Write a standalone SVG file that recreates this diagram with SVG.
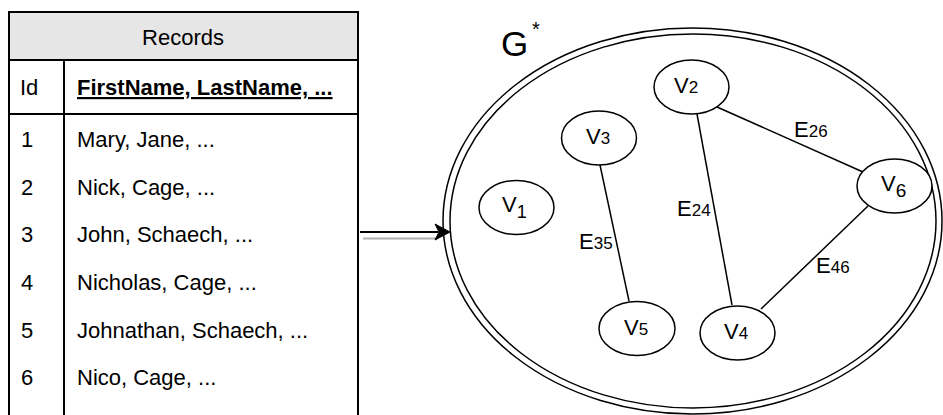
<svg xmlns="http://www.w3.org/2000/svg" width="943" height="415" viewBox="0 0 943 415">
<style>
.t{font-family:"Liberation Sans",Arial,sans-serif;fill:#000}
.tb{font-size:22px}
.line{stroke:#000;stroke-width:2;fill:none}
.node{fill:#fff;stroke:#000;stroke-width:1.5}
.edge{stroke:#000;stroke-width:1.5;fill:none}
.lbl{font-size:22px}
.sub{font-size:17px}
</style>
<rect width="943" height="415" fill="#fff"/>
<g id="records">
  <rect x="9" y="12" width="349" height="48" fill="#e6e6e6" stroke="#000" stroke-width="2"/>
  <text class="t tb" x="183" y="44.5" text-anchor="middle">Records</text>
  <path class="line" d="M9,60 V415 M358,60 V415 M64,60 V415 M9,114 H358"/>
  <text class="t tb" x="20" y="95">Id</text>
  <text class="t tb" x="77" y="95" font-weight="bold" text-decoration="underline">FirstName, LastName, ...</text>
  <text class="t tb" x="21" y="147">1</text><text class="t tb" x="77" y="147">Mary, Jane, ...</text>
  <text class="t tb" x="21" y="195">2</text><text class="t tb" x="77" y="195">Nick, Cage, ...</text>
  <text class="t tb" x="21" y="242">3</text><text class="t tb" x="77" y="242">John, Schaech, ...</text>
  <text class="t tb" x="21" y="290">4</text><text class="t tb" x="77" y="290">Nicholas, Cage, ...</text>
  <text class="t tb" x="21" y="338">5</text><text class="t tb" x="77" y="338">Johnathan, Schaech, ...</text>
  <text class="t tb" x="21" y="385">6</text><text class="t tb" x="77" y="385">Nico, Cage, ...</text>
</g>
<g id="graph">
  <ellipse cx="692.5" cy="221" rx="249.5" ry="193" fill="#fff" stroke="#000" stroke-width="1.5"/>
  <ellipse cx="693" cy="221" rx="243" ry="187" fill="none" stroke="#000" stroke-width="1.5"/>
  <text class="t" x="501" y="56" style="font-size:35px">G</text>
  <text class="t" x="532" y="36" style="font-size:20px">*</text>
</g>
<g id="connectors">
  <line x1="360" y1="232" x2="438" y2="232" stroke="#000" stroke-width="2"/>
  <line x1="363" y1="238.5" x2="437" y2="238.5" stroke="#b0b0b0" stroke-width="2"/>
  <path d="M450,232 L435,224 L439,232 L435,240 Z" fill="#000" stroke="#000" stroke-width="1"/>
  <line class="edge" x1="600" y1="165" x2="629" y2="301"/>
  <line class="edge" x1="697" y1="114" x2="732" y2="305"/>
  <line class="edge" x1="717" y1="107" x2="863" y2="172"/>
  <line class="edge" x1="761" y1="309" x2="868" y2="206"/>
  <text class="t" x="579" y="249"><tspan class="lbl">E</tspan><tspan class="sub">35</tspan></text>
  <text class="t" x="677" y="216"><tspan class="lbl">E</tspan><tspan class="sub">24</tspan></text>
  <text class="t" x="794" y="137"><tspan class="lbl">E</tspan><tspan class="sub">26</tspan></text>
  <text class="t" x="816" y="273"><tspan class="lbl">E</tspan><tspan class="sub">46</tspan></text>
</g>
<g id="v1">
  <ellipse class="node" cx="516.5" cy="207.5" rx="37.5" ry="27"/>
  <text class="t" x="502" y="212"><tspan class="lbl">V</tspan><tspan style="font-size:18px" dy="6">1</tspan></text>
</g>
<g id="v2">
  <ellipse class="node" cx="691.5" cy="87" rx="37.5" ry="27"/>
  <text class="t" x="674" y="93"><tspan class="lbl">V</tspan><tspan class="sub">2</tspan></text>
</g>
<g id="v3">
  <ellipse class="node" cx="599" cy="138" rx="37.5" ry="27"/>
  <text class="t" x="586" y="144"><tspan class="lbl">V</tspan><tspan class="sub">3</tspan></text>
</g>
<g id="v4">
  <ellipse class="node" cx="737.5" cy="333" rx="37.5" ry="27"/>
  <text class="t" x="724" y="339"><tspan class="lbl">V</tspan><tspan class="sub">4</tspan></text>
</g>
<g id="v5">
  <ellipse class="node" cx="637" cy="328.5" rx="38" ry="27"/>
  <text class="t" x="624" y="335"><tspan class="lbl">V</tspan><tspan class="sub">5</tspan></text>
</g>
<g id="v6">
  <ellipse class="node" cx="894.5" cy="186" rx="37.5" ry="27"/>
  <text class="t" x="881" y="191"><tspan class="lbl">V</tspan><tspan style="font-size:19px" dy="6">6</tspan></text>
</g>
</svg>
